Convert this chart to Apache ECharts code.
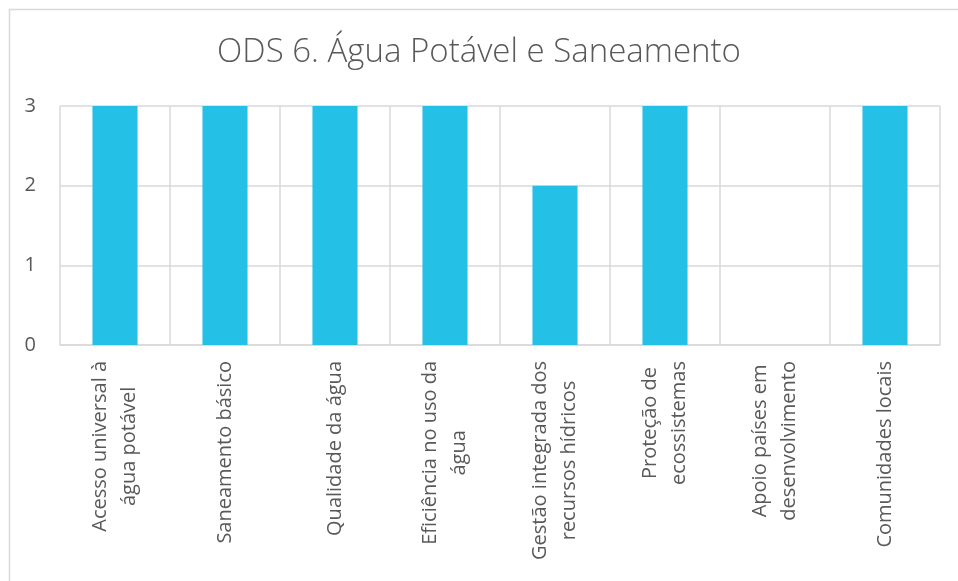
<!DOCTYPE html>
<html><head><meta charset="utf-8">
<script src="https://cdn.jsdelivr.net/npm/echarts@6/dist/echarts.min.js"></script>
<style>html,body{margin:0;padding:0;background:#fff}#c{width:958px;height:581px}</style>
</head><body><div id="c"></div>
<script>
const titleText = 'ODS 6. Água Potável e Saneamento';
const categories = [
  'Acesso universal à\nágua potável',
  'Saneamento básico',
  'Qualidade da água',
  'Eficiência no uso da\nágua',
  'Gestão integrada dos\nrecursos hídricos',
  'Proteção de\necossistemas',
  'Apoio países em\ndesenvolvimento',
  'Comunidades locais'
];
const values = [3, 3, 3, 3, 2, 3, 0, 3];
const yTicks = [0, 1, 2, 3];

const chart = echarts.init(document.getElementById('c'), null, {renderer: 'canvas'});
const font = '"Open Sans", "DejaVu Sans", sans-serif';
chart.setOption({
  backgroundColor: '#fff',
  animation: false,
  graphic: [{
    type: 'rect', left: 7, top: 7, shape: {width: 960, height: 590},
    style: {fill: 'none', stroke: '#d9d9d9', lineWidth: 1.5}, silent: true
  }],
  title: {
    text: titleText, left: 'center', top: 31,
    textStyle: {fontFamily: font, fontWeight: 300, fontSize: 33, color: '#595959'}
  },
  grid: {left: 60, right: 18, top: 106, bottom: 236, containLabel: false},
  xAxis: {
    type: 'category', data: categories,
    axisLine: {show: true, lineStyle: {color: '#d9d9d9', width: 1.5}},
    axisTick: {show: false},
    splitLine: {show: true, lineStyle: {color: '#d9d9d9', width: 1.5}},
    axisLabel: {
      rotate: 90, margin: 16, interval: 0, color: '#595959',
      fontFamily: font, fontSize: 20, lineHeight: 29,
      formatter: v => v.split('\n').map(s => '{a|' + s + '}').join('\n'),
      rich: {a: {align: 'center', fontFamily: font, fontSize: 20, lineHeight: 29, color: '#595959'}}
    }
  },
  yAxis: {
    type: 'value', min: yTicks[0], max: yTicks[yTicks.length - 1], interval: 1,
    axisLine: {show: false}, axisTick: {show: false},
    splitLine: {show: true, lineStyle: {color: '#d9d9d9', width: 1.5}},
    axisLabel: {margin: 24, color: '#595959', fontFamily: font, fontSize: 20}
  },
  series: [{
    type: 'bar', data: values, barWidth: '41%',
    itemStyle: {color: '#25C0E6'}
  }]
});
</script></body></html>
